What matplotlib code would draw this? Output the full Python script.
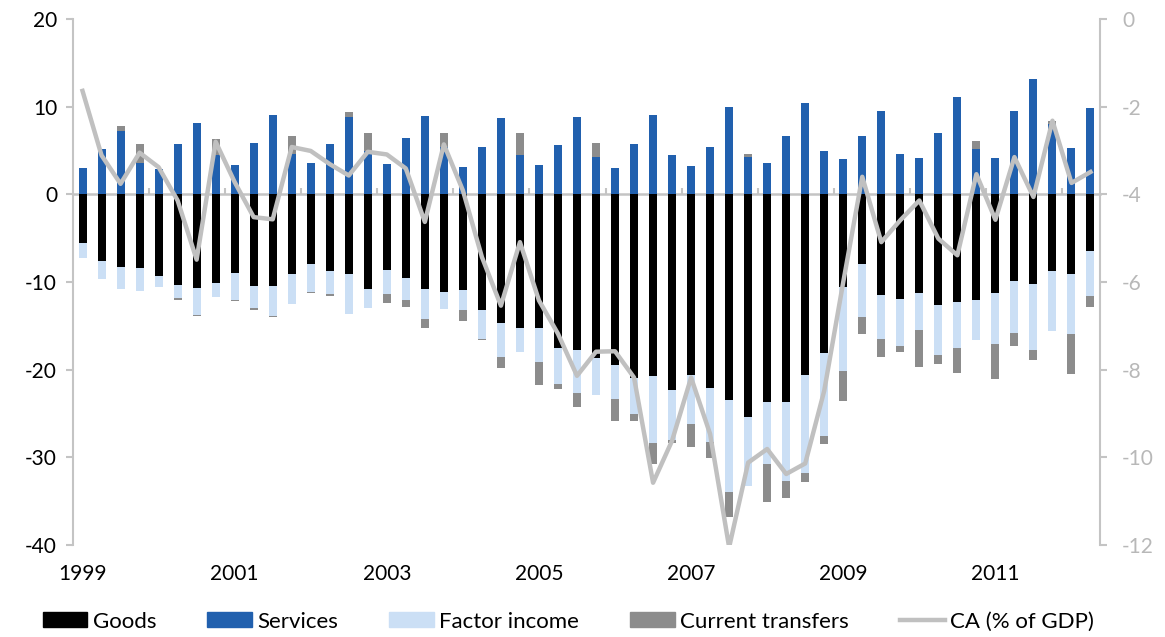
import numpy as np
import matplotlib
matplotlib.use("Agg")
import matplotlib.pyplot as plt
from matplotlib.lines import Line2D
from matplotlib.patches import Patch

plt.rcParams['font.family'] = ['Lato', 'DejaVu Sans']
plt.rcParams['axes.unicode_minus'] = False

# quarterly, 1999Q1 .. 2012Q2
quarters = [f"{y}Q{q}" for y in range(1999, 2013) for q in range(1, 5)][:54]

goods = [-5.56, -7.6, -8.3, -8.4, -9.3, -10.3, -10.7, -10.1, -9.0, -10.4, -10.4, -9.1,
         -7.9, -8.8, -9.1, -10.85, -8.6, -9.5, -10.85, -11.1, -10.95, -13.2, -14.7, -15.2,
         -15.2, -17.5, -17.75, -18.7, -19.5, -20.9, -20.7, -22.3, -20.6, -22.1, -23.5, -25.4,
         -23.7, -23.7, -20.6, -18.1, -10.6, -8.0, -11.5, -11.9, -11.2, -12.6, -12.3, -12.1,
         -11.2, -9.9, -10.2, -8.76, -9.14, -6.48]
services = [3.05, 5.2, 7.2, 3.6, 2.9, 5.7, 8.1, 4.5, 3.4, 5.8, 9.1, 4.6,
            3.6, 5.7, 8.8, 5.0, 3.5, 6.4, 8.95, 5.4, 3.1, 5.4, 8.7, 4.45,
            3.4, 5.6, 8.8, 4.3, 3.0, 5.7, 9.0, 4.45, 3.2, 5.45, 10.0, 4.3,
            3.6, 6.7, 10.4, 4.95, 4.05, 6.7, 9.55, 4.65, 4.1, 7.0, 11.1, 5.2,
            4.2, 9.5, 13.1, 8.05, 5.25, 9.9]
factor_income = [-1.7, -2.06, -2.55, -2.6, -1.3, -1.55, -3.05, -1.57, -3.1, -2.6, -3.5, -3.4,
                 -3.2, -2.55, -4.6, -2.1, -2.75, -2.6, -3.35, -1.94, -2.29, -3.25, -3.9, -2.75,
                 -3.9, -4.1, -4.96, -4.2, -3.8, -4.2, -7.7, -5.7, -5.6, -6.2, -10.4, -7.9,
                 -7.05, -9.0, -11.2, -9.5, -9.6, -6.0, -4.95, -5.45, -4.3, -5.75, -5.26, -4.57,
                 -5.87, -5.94, -7.5, -6.86, -6.8, -5.1]
transfers = [0.0, 0.0, 0.6, 2.1, 0.0, -0.2, -0.12, 1.8, -0.08, -0.2, -0.1, 2.0,
             -0.1, -0.3, 0.6, 2.0, -1.07, -0.77, -1.07, 1.6, -1.22, -0.18, -1.2, 2.6,
             -2.6, -0.57, -1.5, 1.5, -2.6, -0.7, -2.4, -0.38, -2.67, -1.8, -2.9, 0.3,
             -4.4, -1.9, -1.06, -0.88, -3.35, -1.9, -2.1, -0.6, -4.2, -1.03, -2.86, 0.85,
             -4.0, -1.49, -1.2, 0.3, -4.5, -1.3]
ca_gdp = [-1.64, -3.11, -3.76, -3.05, -3.38, -4.14, -5.49, -2.80, -3.72, -4.52, -4.57, -2.92,
          -3.01, -3.31, -3.57, -3.03, -3.09, -3.41, -4.63, -2.86, -3.91, -5.43, -6.54, -5.09,
          -6.42, -7.18, -8.14, -7.59, -7.58, -8.18, -10.58, -9.62, -8.18, -9.47, -12.05, -10.12,
          -9.81, -10.38, -10.14, -8.48, -6.0, -3.6, -5.09, -4.59, -4.14, -5.01, -5.39, -3.54,
          -4.58, -3.15, -4.06, -2.32, -3.74, -3.49]

series = [("Goods", goods, "#000000"),
          ("Services", services, "#2160ae"),
          ("Factor income", factor_income, "#cbdff5"),
          ("Current transfers", transfers, "#8c8c8c")]

grey = "#c4c4c4"
x = np.arange(len(quarters))

fig = plt.figure(figsize=(11.65, 6.37), dpi=100)
ax = fig.add_axes([73 / 1165, 1 - 545 / 637, (1100 - 73) / 1165, (545 - 19) / 637])

pos_base = np.zeros(len(x))
neg_base = np.zeros(len(x))
for name, vals, col in series:
    v = np.array(vals)
    base = np.where(v >= 0, pos_base, neg_base)
    ax.bar(x, v, 0.42, bottom=base, color=col, linewidth=0, zorder=2)
    pos_base += np.where(v >= 0, v, 0)
    neg_base += np.where(v < 0, v, 0)

ax.set_xlim(-0.5, len(x) - 0.5)
ax.set_ylim(-40, 20)
ax.set_yticks(range(-40, 21, 10))
ax.tick_params(axis='y', colors=grey, labelcolor='black', labelsize=15,
               length=5, width=1.5, pad=6.5)
lab_pos = [i for i, q in enumerate(quarters) if q.endswith("Q1") and int(q[:4]) % 2 == 1]
ax.set_xticks(lab_pos)
ax.set_xticklabels([quarters[i][:4] for i in lab_pos])
ax.tick_params(axis='x', length=0, labelsize=15, pad=14)
for s in ['top', 'right', 'bottom']:
    ax.spines[s].set_visible(False)
ax.spines['left'].set_color(grey)
ax.spines['left'].set_linewidth(1.5)

# zero line with year ticks
zero = ax.secondary_xaxis(40 / 60)
zero.set_xticks(np.arange(3.5, len(x), 4))
zero.set_xticklabels([])
zero.tick_params(axis='x', color=grey, length=4, width=1.5, direction='out')
for sp in zero.spines.values():
    sp.set_color(grey)
    sp.set_linewidth(1.8)

ax2 = ax.twinx()
ax2.plot(x, ca_gdp, color="#c0c0c0", linewidth=3.2, zorder=5)
ax2.set_ylim(-12, 0)
ax2.set_yticks(range(-12, 1, 2))
ax2.tick_params(axis='y', colors=grey, labelcolor="#b8b8b8", labelsize=15,
                length=5, width=1.5, pad=11)
for s in ['top', 'left', 'bottom']:
    ax2.spines[s].set_visible(False)
ax2.spines['right'].set_color(grey)
ax2.spines['right'].set_linewidth(1.5)

handles = [Patch(color=c, label=n) for n, _, c in series]
handles.append(Line2D([], [], color="#c0c0c0", linewidth=3.2, label="CA (% of GDP)"))
fig.legend(handles=handles, loc='center', bbox_to_anchor=(0.488, 0.024), ncol=5,
           frameon=False, fontsize=16, handlelength=2.0, handleheight=0.66,
           handletextpad=0.25, columnspacing=2.3)

fig.savefig("out.png", dpi=100)
